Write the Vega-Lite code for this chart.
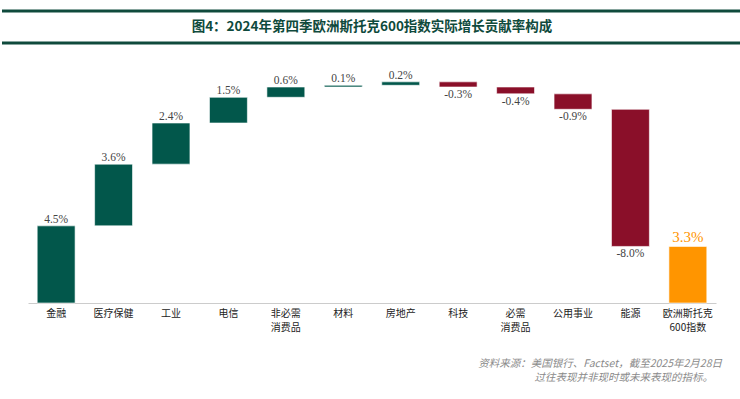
{
  "$schema": "https://vega.github.io/schema/vega-lite/v6.json",
  "padding": {"top": 9, "left": 0, "right": 0, "bottom": 0},
  "background": "white",
  "config": {"view": {"stroke": null}},
  "bounds": "flush",
  "center": true,
  "spacing": 20,
  "vconcat": [
    {
      "width": 740,
      "height": 32,
      "data": {"values": [{"title": "图4：2024年第四季欧洲斯托克600指数实际增长贡献率构成"}]},
      "layer": [
        {
          "mark": {"type": "rule", "color": "#0f4a3c", "strokeWidth": 3},
          "encoding": {"y": {"datum": 1, "type": "quantitative", "scale": {"domain": [0, 1]}, "axis": null}}
        },
        {
          "mark": {"type": "rule", "color": "#0f4a3c", "strokeWidth": 3},
          "encoding": {"y": {"datum": 0, "type": "quantitative", "scale": {"domain": [0, 1]}, "axis": null}}
        },
        {
          "mark": {"type": "text", "font": "Noto Sans CJK SC", "fontWeight": "bold", "fontSize": 13.5, "color": "#0f4a3c", "align": "center", "baseline": "middle"},
          "encoding": {
            "x": {"datum": 0.5, "type": "quantitative", "scale": {"domain": [0, 1]}, "axis": null},
            "y": {"datum": 0.5, "type": "quantitative", "scale": {"domain": [0, 1]}, "axis": null},
            "text": {"field": "title"}
          }
        }
      ]
    },
    {
      "width": 688,
      "height": 240,
      "data": {
        "values": [
          {"sector": "金融", "value": 4.5, "label": "4.5%", "start": 0, "end": 4.5, "kind": "inc"},
          {"sector": "医疗保健", "value": 3.6, "label": "3.6%", "start": 4.5, "end": 8.1, "kind": "inc"},
          {"sector": "工业", "value": 2.4, "label": "2.4%", "start": 8.1, "end": 10.5, "kind": "inc"},
          {"sector": "电信", "value": 1.5, "label": "1.5%", "start": 10.5, "end": 12.0, "kind": "inc"},
          {"sector": "非必需 消费品", "value": 0.6, "label": "0.6%", "start": 12.0, "end": 12.6, "kind": "inc"},
          {"sector": "材料", "value": 0.1, "label": "0.1%", "start": 12.6, "end": 12.7, "kind": "inc"},
          {"sector": "房地产", "value": 0.2, "label": "0.2%", "start": 12.7, "end": 12.9, "kind": "inc"},
          {"sector": "科技", "value": -0.3, "label": "-0.3%", "start": 12.9, "end": 12.6, "kind": "dec"},
          {"sector": "必需 消费品", "value": -0.4, "label": "-0.4%", "start": 12.6, "end": 12.2, "kind": "dec"},
          {"sector": "公用事业", "value": -0.9, "label": "-0.9%", "start": 12.2, "end": 11.3, "kind": "dec"},
          {"sector": "能源", "value": -8.0, "label": "-8.0%", "start": 11.3, "end": 3.3, "kind": "dec"},
          {"sector": "欧洲斯托克 600指数", "value": 3.3, "label": "3.3%", "start": 0, "end": 3.3, "kind": "total"}
        ]
      },
      "encoding": {
        "x": {
          "field": "sector",
          "type": "nominal",
          "sort": null,
          "scale": {"paddingInner": 0.34, "paddingOuter": 0.16},
          "axis": {
            "title": null,
            "labelAngle": 0,
            "labelExpr": "split(datum.label, ' ')",
            "labelFont": "Noto Sans CJK SC",
            "labelFontSize": 10,
            "labelColor": "#222222",
            "labelPadding": 5,
            "labelLineHeight": 14,
            "ticks": false,
            "domainColor": "#cccccc",
            "domainWidth": 1
          }
        }
      },
      "layer": [
        {
          "mark": {"type": "bar", "stroke": "white", "strokeWidth": 0.6},
          "encoding": {
            "y": {"field": "start", "type": "quantitative", "scale": {"domain": [0, 14], "nice": false}, "axis": null},
            "y2": {"field": "end"},
            "color": {
              "field": "kind",
              "type": "nominal",
              "scale": {"domain": ["inc", "dec", "total"], "range": ["#02574b", "#8a0f29", "#ff9500"]},
              "legend": null
            }
          }
        },
        {
          "transform": [{"filter": "datum.kind == 'inc'"}],
          "mark": {"type": "text", "font": "Liberation Serif", "fontSize": 11.5, "color": "#444444", "baseline": "bottom", "dy": -1},
          "encoding": {
            "y": {"field": "end", "type": "quantitative"},
            "text": {"field": "label", "type": "nominal"}
          }
        },
        {
          "transform": [{"filter": "datum.kind == 'dec'"}],
          "mark": {"type": "text", "font": "Liberation Serif", "fontSize": 11.5, "color": "#444444", "baseline": "top", "dy": 2},
          "encoding": {
            "y": {"field": "end", "type": "quantitative"},
            "text": {"field": "label", "type": "nominal"}
          }
        },
        {
          "transform": [{"filter": "datum.kind == 'total'"}],
          "mark": {"type": "text", "font": "Liberation Serif", "fontSize": 15, "color": "#ff9500", "baseline": "bottom", "dy": -1},
          "encoding": {
            "y": {"field": "end", "type": "quantitative"},
            "text": {"field": "label", "type": "nominal"}
          }
        }
      ]
    },
    {
      "width": 688,
      "height": 54,
      "data": {
        "values": [
          {"line": 1, "note": "资料来源：美国银行、Factset，截至2025年2月28日"},
          {"line": 2, "note": "过往表现并非现时或未来表现的指标。"}
        ]
      },
      "layer": [
        {
          "transform": [{"filter": "datum.line == 1"}],
          "mark": {"type": "text", "font": "Noto Sans CJK SC", "fontSize": 10.5, "fontStyle": "italic", "color": "#8a8a8a", "align": "right", "baseline": "middle", "dx": 6, "dy": -13},
          "encoding": {
            "x": {"datum": 1, "type": "quantitative", "scale": {"domain": [0, 1]}, "axis": null},
            "y": {"datum": 0, "type": "quantitative", "scale": {"domain": [0, 1]}, "axis": null},
            "text": {"field": "note"}
          }
        },
        {
          "transform": [{"filter": "datum.line == 2"}],
          "mark": {"type": "text", "font": "Noto Sans CJK SC", "fontSize": 10.5, "fontStyle": "italic", "color": "#8a8a8a", "align": "right", "baseline": "middle", "dx": -3, "dy": 1},
          "encoding": {
            "x": {"datum": 1, "type": "quantitative", "scale": {"domain": [0, 1]}, "axis": null},
            "y": {"datum": 0, "type": "quantitative", "scale": {"domain": [0, 1]}, "axis": null},
            "text": {"field": "note"}
          }
        }
      ]
    }
  ]
}
